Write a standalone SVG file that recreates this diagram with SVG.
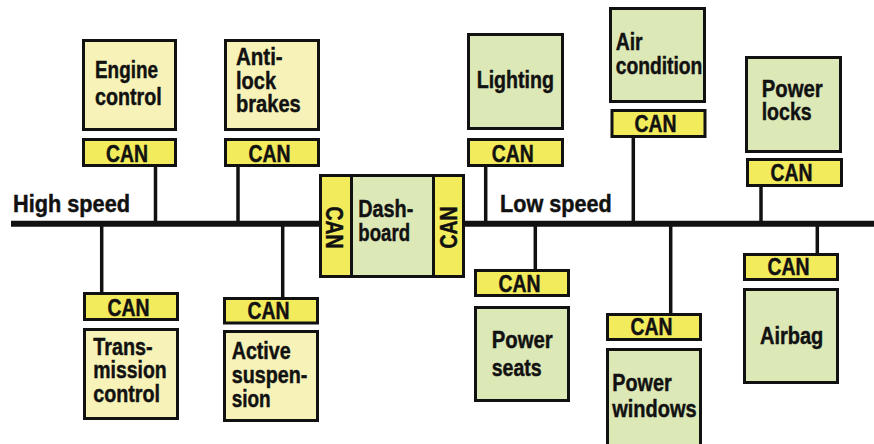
<svg xmlns="http://www.w3.org/2000/svg" width="874" height="444" viewBox="0 0 874 444">
<style>
.y{fill:#f7f3b8;stroke:#111;stroke-width:3}
.g{fill:#dde8b7;stroke:#111;stroke-width:3}
.c{fill:#f2eb5c;stroke:#111;stroke-width:3}
text{font-family:"Liberation Sans",Arial,sans-serif;font-weight:bold;fill:#111;stroke:#111;stroke-width:0.45}
.t{font-size:24px}
.ct{font-size:23px;text-anchor:middle}
.w{stroke:#111;stroke-width:3.5;fill:none}
</style>
<rect width="874" height="444" fill="#fff"/>
<g id="connectors">
<line class="w" x1="11" y1="223.7" x2="874" y2="223.7" style="stroke-width:6"/>
<line class="w" x1="155.5" y1="166" x2="155.5" y2="222"/>
<line class="w" x1="238" y1="166" x2="238" y2="222"/>
<line class="w" x1="101.7" y1="225" x2="101.7" y2="293"/>
<line class="w" x1="282.7" y1="225" x2="282.7" y2="298"/>
<line class="w" x1="485.7" y1="166" x2="485.7" y2="222"/>
<line class="w" x1="633.3" y1="137" x2="633.3" y2="222"/>
<line class="w" x1="761" y1="186" x2="761" y2="222"/>
<line class="w" x1="535.3" y1="225" x2="535.3" y2="270"/>
<line class="w" x1="670.7" y1="225" x2="670.7" y2="314"/>
<line class="w" x1="817.3" y1="225" x2="817.3" y2="254"/>
</g>
<text class="t" x="13" y="211.7" textLength="117" lengthAdjust="spacingAndGlyphs">High speed</text>
<text class="t" x="500" y="211.7" textLength="111.7" lengthAdjust="spacingAndGlyphs">Low speed</text>
<g id="engine">
<rect class="y" x="83.5" y="40.5" width="92" height="89"/>
<text class="t" x="95" y="78.3" textLength="63" lengthAdjust="spacingAndGlyphs">Engine</text>
<text class="t" x="95" y="105" textLength="66.7" lengthAdjust="spacingAndGlyphs">control</text>
<rect class="c" x="83.5" y="139.5" width="92" height="26"/>
<text class="ct" x="127" y="161.7" textLength="42" lengthAdjust="spacingAndGlyphs">CAN</text>
</g>
<g id="antilock">
<rect class="y" x="225.5" y="40.5" width="93" height="89"/>
<text class="t" x="236" y="65" textLength="46.7" lengthAdjust="spacingAndGlyphs">Anti-</text>
<text class="t" x="236" y="89.3" textLength="40" lengthAdjust="spacingAndGlyphs">lock</text>
<text class="t" x="236" y="112.3" textLength="64.7" lengthAdjust="spacingAndGlyphs">brakes</text>
<rect class="c" x="225.5" y="139.5" width="93" height="26"/>
<text class="ct" x="269.5" y="161.7" textLength="42" lengthAdjust="spacingAndGlyphs">CAN</text>
</g>
<g id="transmission">
<rect class="c" x="84.5" y="293.5" width="93" height="26"/>
<text class="ct" x="128.5" y="316" textLength="42" lengthAdjust="spacingAndGlyphs">CAN</text>
<rect class="y" x="84.5" y="329.5" width="93" height="89"/>
<text class="t" x="93.3" y="355" textLength="59.3" lengthAdjust="spacingAndGlyphs">Trans-</text>
<text class="t" x="93.3" y="378.3" textLength="73.3" lengthAdjust="spacingAndGlyphs">mission</text>
<text class="t" x="93.3" y="401.7" textLength="66.7" lengthAdjust="spacingAndGlyphs">control</text>
</g>
<g id="suspension">
<rect class="c" x="224.5" y="298.5" width="93" height="24.5"/>
<text class="ct" x="268.5" y="318.7" textLength="42" lengthAdjust="spacingAndGlyphs">CAN</text>
<rect class="y" x="224.5" y="331.5" width="93" height="89"/>
<text class="t" x="231.7" y="359.3" textLength="59" lengthAdjust="spacingAndGlyphs">Active</text>
<text class="t" x="231.7" y="383.3" textLength="75.7" lengthAdjust="spacingAndGlyphs">suspen-</text>
<text class="t" x="231.7" y="407.3" textLength="39" lengthAdjust="spacingAndGlyphs">sion</text>
</g>
<g id="dashboard">
<rect class="c" x="320.5" y="175.5" width="31" height="101"/>
<rect class="g" x="351.5" y="175.5" width="82" height="101"/>
<rect class="c" x="433.5" y="175.5" width="30" height="101"/>
<text class="ct" transform="translate(326,227.5) rotate(90)" x="0" y="0" textLength="42" lengthAdjust="spacingAndGlyphs">CAN</text>
<text class="ct" transform="translate(456.5,227.5) rotate(-90)" x="0" y="0" textLength="42" lengthAdjust="spacingAndGlyphs">CAN</text>
<text class="t" x="358.3" y="216.7" textLength="55" lengthAdjust="spacingAndGlyphs">Dash-</text>
<text class="t" x="358.3" y="241" textLength="51.7" lengthAdjust="spacingAndGlyphs">board</text>
</g>
<g id="lighting">
<rect class="g" x="468.5" y="34.5" width="94" height="94"/>
<text class="t" x="476.7" y="88.3" textLength="77.3" lengthAdjust="spacingAndGlyphs">Lighting</text>
<rect class="c" x="468.5" y="139.5" width="94" height="26"/>
<text class="ct" x="512.8" y="161.7" textLength="42" lengthAdjust="spacingAndGlyphs">CAN</text>
</g>
<g id="aircondition">
<rect class="g" x="610.5" y="8.5" width="94" height="93"/>
<text class="t" x="615.7" y="50" textLength="27" lengthAdjust="spacingAndGlyphs">Air</text>
<text class="t" x="615.7" y="74" textLength="86.7" lengthAdjust="spacingAndGlyphs">condition</text>
<rect class="c" x="612" y="110.5" width="93" height="26"/>
<text class="ct" x="655.5" y="132.3" textLength="42" lengthAdjust="spacingAndGlyphs">CAN</text>
</g>
<g id="powerlocks">
<rect class="g" x="746.5" y="57.5" width="94" height="94"/>
<text class="t" x="761.7" y="96.7" textLength="61" lengthAdjust="spacingAndGlyphs">Power</text>
<text class="t" x="761.7" y="120" textLength="50" lengthAdjust="spacingAndGlyphs">locks</text>
<rect class="c" x="747.5" y="159.5" width="94" height="26"/>
<text class="ct" x="791.5" y="181" textLength="42" lengthAdjust="spacingAndGlyphs">CAN</text>
</g>
<g id="powerseats">
<rect class="c" x="475.5" y="270.5" width="93" height="25"/>
<text class="ct" x="519.5" y="291.7" textLength="42" lengthAdjust="spacingAndGlyphs">CAN</text>
<rect class="g" x="475.5" y="307.5" width="93" height="93"/>
<text class="t" x="491.7" y="348.3" textLength="61" lengthAdjust="spacingAndGlyphs">Power</text>
<text class="t" x="491.7" y="375.7" textLength="50" lengthAdjust="spacingAndGlyphs">seats</text>
</g>
<g id="powerwindows">
<rect class="c" x="607.5" y="314.5" width="93" height="25"/>
<text class="ct" x="651.5" y="335" textLength="42" lengthAdjust="spacingAndGlyphs">CAN</text>
<rect class="g" x="607.5" y="349.5" width="93" height="100"/>
<text class="t" x="612.3" y="390.7" textLength="59.3" lengthAdjust="spacingAndGlyphs">Power</text>
<text class="t" x="612.3" y="417.3" textLength="84.3" lengthAdjust="spacingAndGlyphs">windows</text>
</g>
<g id="airbag">
<rect class="c" x="744.5" y="254.5" width="93" height="25"/>
<text class="ct" x="788.5" y="275" textLength="42" lengthAdjust="spacingAndGlyphs">CAN</text>
<rect class="g" x="744.5" y="289.5" width="93" height="93"/>
<text class="t" x="760" y="344" textLength="63.3" lengthAdjust="spacingAndGlyphs">Airbag</text>
</g>
</svg>
